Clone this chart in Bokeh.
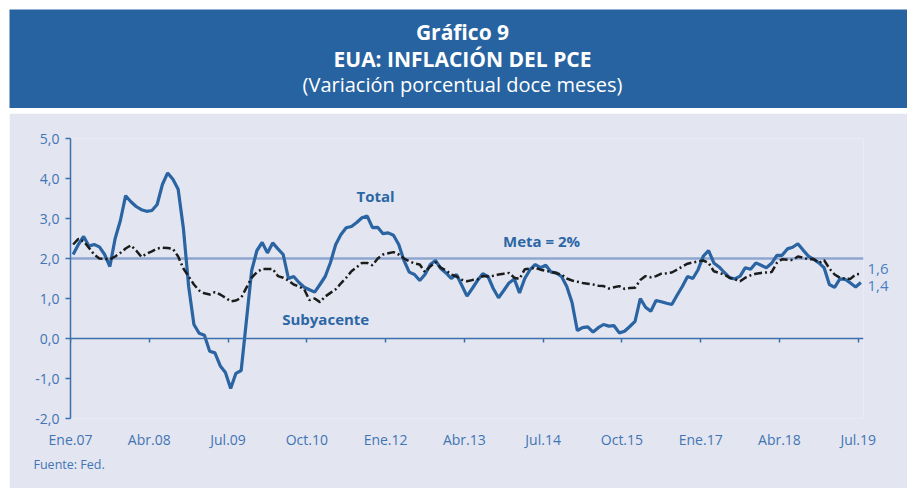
import numpy as np
from bokeh.plotting import figure
from bokeh.models import (Range1d, LinearAxis, FixedTicker, CustomJSTickFormatter,
                          Span, Label, Title, ColumnDataSource)
from bokeh.layouts import column
from bokeh.embed import file_html
from bokeh.resources import INLINE

# ---------------- data (monthly, Ene.2007 - Jul.2019) ----------------
TOTAL = [2.1, 2.35, 2.55, 2.31, 2.35, 2.29, 2.1, 1.8, 2.5, 2.95, 3.57, 3.42,
         3.3, 3.22, 3.18, 3.2, 3.35, 3.85, 4.14, 3.98, 3.73, 2.75, 1.3, 0.35,
         0.13, 0.08, -0.32, -0.36, -0.68, -0.85, -1.25, -0.87, -0.8, 0.45, 1.7, 2.2,
         2.4, 2.14, 2.39, 2.24, 2.1, 1.5, 1.55, 1.4, 1.28, 1.22, 1.16, 1.35,
         1.55, 1.9, 2.35, 2.6, 2.77, 2.8, 2.9, 3.02, 3.06, 2.77, 2.78, 2.62,
         2.64, 2.58, 2.35, 1.95, 1.66, 1.6, 1.45, 1.6, 1.85, 1.95, 1.75, 1.64,
         1.5, 1.6, 1.33, 1.06, 1.25, 1.45, 1.62, 1.55, 1.25, 1.02, 1.2, 1.39,
         1.49, 1.14, 1.5, 1.72, 1.85, 1.77, 1.83, 1.66, 1.64, 1.55, 1.3, 0.9,
         0.2, 0.27, 0.29, 0.16, 0.27, 0.35, 0.31, 0.32, 0.14, 0.18, 0.3, 0.43,
         1.0, 0.78, 0.68, 0.95, 0.92, 0.88, 0.85, 1.08, 1.3, 1.55, 1.5, 1.72,
         2.06, 2.2, 1.89, 1.79, 1.65, 1.52, 1.49, 1.56, 1.77, 1.73, 1.89, 1.83,
         1.77, 1.88, 2.08, 2.08, 2.24, 2.28, 2.37, 2.21, 2.06, 1.98, 1.89, 1.77,
         1.35, 1.28, 1.49, 1.48, 1.39, 1.29, 1.4]

CORE = [2.35, 2.49, 2.43, 2.27, 2.1, 2.0, 1.99, 1.98, 2.05, 2.14, 2.25, 2.33,
        2.2, 2.04, 2.12, 2.18, 2.25, 2.27, 2.26, 2.24, 2.05, 1.75, 1.55, 1.35,
        1.2, 1.13, 1.1, 1.16, 1.1, 1.02, 0.93, 0.95, 1.02, 1.27, 1.52, 1.66,
        1.74, 1.74, 1.74, 1.56, 1.52, 1.45, 1.35, 1.3, 1.23, 0.96, 1.0, 0.91,
        1.05, 1.14, 1.23, 1.38, 1.52, 1.68, 1.78, 1.89, 1.89, 1.83, 2.0, 2.1,
        2.13, 2.16, 2.1, 2.0, 1.93, 1.88, 1.85, 1.66, 1.8, 1.91, 1.77, 1.7,
        1.6, 1.55, 1.47, 1.43, 1.46, 1.48, 1.56, 1.55, 1.57, 1.6, 1.62, 1.64,
        1.52, 1.49, 1.73, 1.75, 1.77, 1.72, 1.69, 1.67, 1.63, 1.6, 1.5, 1.45,
        1.42, 1.39, 1.37, 1.35, 1.32, 1.31, 1.25, 1.28, 1.31, 1.24, 1.26, 1.27,
        1.46, 1.56, 1.53, 1.56, 1.62, 1.63, 1.65, 1.72, 1.8, 1.87, 1.9, 1.93,
        1.95, 1.89, 1.68, 1.64, 1.6, 1.52, 1.48, 1.43, 1.52, 1.58, 1.62, 1.64,
        1.65, 1.66, 1.89, 1.98, 1.97, 1.96, 2.05, 2.02, 1.98, 1.99, 1.89, 1.96,
        1.75, 1.6, 1.52, 1.5, 1.49, 1.6, 1.62]

TICK_LABELS = ["Ene.07", "Abr.08", "Jul.09", "Oct.10", "Ene.12", "Abr.13",
               "Jul.14", "Oct.15", "Ene.17", "Abr.18", "Jul.19"]
TICK_STEP = 15          # months between labelled ticks
Y_TICKS = [-2, -1, 0, 1, 2, 3, 4, 5]
META = 2.0

TITLE = "Gráfico 9"
SUBTITLE = "EUA: INFLACIÓN DEL PCE"
UNITS = "(Variación porcentual doce meses)"
SOURCE = "Fuente: Fed."

# ---------------- styles ----------------
FONT = "Open Sans"
BLUE_BANNER = "#2763a0"
PANEL = "#e3e6f1"
AXIS_COL = "#3c6fad"
LABEL_COL = "#4274b3"
TOTAL_COL = "#2a64a2"
CORE_COL = "#1c1c1c"
META_COL = "#8ea6cf"
ANNOT_COL = "#2c66a5"
END_COL = "#4a80c2"

W = 898
BANNER_H = 99
CHART_H = 375

# ---------------- banner ----------------
banner = figure(width=W, height=BANNER_H, x_range=Range1d(0, W),
                y_range=Range1d(0, BANNER_H),
                output_backend="svg", toolbar_location=None, min_border=0,
                x_axis_type=None, y_axis_type=None,
                background_fill_color=BLUE_BANNER, border_fill_color=BLUE_BANNER,
                outline_line_color=None)
banner.frame_align = False
banner.grid.visible = False
for txt, yy, style, size in [(TITLE, 76.5, "bold", "21px"),
                             (SUBTITLE, 50, "bold", "21px"),
                             (UNITS, 24.5, "normal", "20px")]:
    banner.add_layout(Label(x=453, y=yy, text=txt, text_align="center",
                            text_baseline="alphabetic", text_font=FONT,
                            text_font_style=style, text_font_size=size,
                            text_color="white"))

# ---------------- chart ----------------
n = len(TOTAL)
months = np.arange(n) + 0.5
src = ColumnDataSource(dict(x=months, total=TOTAL, core=CORE))
tick_pos = [k * TICK_STEP for k in range(len(TICK_LABELS))]

p = figure(width=W, height=CHART_H, x_range=Range1d(0, n), y_range=Range1d(-2, 5),
           output_backend="svg", toolbar_location=None,
           min_border_left=61, min_border_right=44, min_border_top=25,
           min_border_bottom=70,
           background_fill_color=PANEL, border_fill_color=PANEL,
           outline_line_color=None)
p.frame_align = False
p.grid.visible = False

# bottom axis: labels only
xa = p.xaxis[0]
xa.ticker = FixedTicker(ticks=tick_pos)
xa.formatter = CustomJSTickFormatter(args=dict(labels=TICK_LABELS, step=TICK_STEP),
                                     code="return labels[Math.round(tick/step)];")
xa.axis_line_color = None
xa.major_tick_line_color = None
xa.major_tick_out = 0
xa.major_tick_in = 0
xa.minor_tick_line_color = None
xa.minor_tick_out = 0
xa.major_label_standoff = 11
xa.major_label_text_font = FONT
xa.major_label_text_font_size = "14px"
xa.major_label_text_color = LABEL_COL

# axis line at zero with ticks
zero_axis = LinearAxis(fixed_location=0, ticker=FixedTicker(ticks=tick_pos),
                       formatter=CustomJSTickFormatter(code="return '';"),
                       axis_line_color=AXIS_COL, axis_line_width=1.5,
                       major_tick_line_color=AXIS_COL, major_tick_line_width=1.5,
                       major_tick_out=4, major_tick_in=0,
                       minor_tick_line_color=None, major_label_standoff=0,
                       major_label_text_font_size="1px")
p.add_layout(zero_axis, "below")

ya = p.yaxis[0]
ya.ticker = FixedTicker(ticks=Y_TICKS)
ya.formatter = CustomJSTickFormatter(code="return tick.toFixed(1).replace('.', ',');")
ya.axis_line_color = AXIS_COL
ya.axis_line_width = 1.5
ya.major_tick_line_color = AXIS_COL
ya.major_tick_line_width = 1.5
ya.major_tick_out = 5
ya.major_tick_in = 0
ya.minor_tick_line_color = None
ya.major_label_standoff = 6
ya.major_label_text_font = FONT
ya.major_label_text_font_size = "14px"
ya.major_label_text_color = LABEL_COL

# right axis used for the end-of-series value labels
def fmt(v):
    return f"{v:.1f}".replace(".", ",")

END_POS = [1.74, 1.31]          # label positions (core, total)
END_TEXT = [fmt(CORE[-1]), fmt(TOTAL[-1])]
end_axis = LinearAxis(ticker=FixedTicker(ticks=END_POS),
                      formatter=CustomJSTickFormatter(
                          args=dict(pos=END_POS, txt=END_TEXT),
                          code="let k = 0; let d = 1e9;"
                               "for (let i = 0; i < pos.length; i++) {"
                               " const e = Math.abs(pos[i]-tick); if (e < d) {d = e; k = i;} }"
                               "return txt[k];"),
                      axis_line_color=None, major_tick_line_color=None,
                      minor_tick_line_color=None, major_tick_out=0, major_tick_in=0,
                      minor_tick_out=0, major_label_standoff=4,
                      major_label_text_font=FONT, major_label_text_font_size="15px",
                      major_label_text_color=END_COL)
p.add_layout(end_axis, "right")

p.add_layout(Span(location=META, dimension="width", line_color=META_COL,
                  line_width=2.5, level="underlay"))

p.line("x", "total", source=src, line_color=TOTAL_COL, line_width=3.2)
p.line("x", "core", source=src, line_color=CORE_COL, line_width=2.5,
       line_dash="8 3 2 3")

annots = [
    ("Total", 58.1, 3.57),
    ("Meta = 2%", 89.7, 2.45),
    ("Subyacente", 48.6, 0.5),
]
for txt, xx, yy in annots:
    p.add_layout(Label(x=xx, y=yy, text=txt, text_align="center",
                       text_baseline="alphabetic", text_font=FONT,
                       text_font_style="bold", text_font_size="15px",
                       text_color=ANNOT_COL))

src_title = Title(text=SOURCE, align="left", offset=-37, standoff=4,
                  text_font=FONT, text_font_style="normal",
                  text_font_size="12.5px", text_color=LABEL_COL)
p.add_layout(src_title, "below")

layout = column(banner, p, spacing=5, margin=(9, 0, 0, 9))
open("out.html", "w").write(file_html(layout, INLINE))
